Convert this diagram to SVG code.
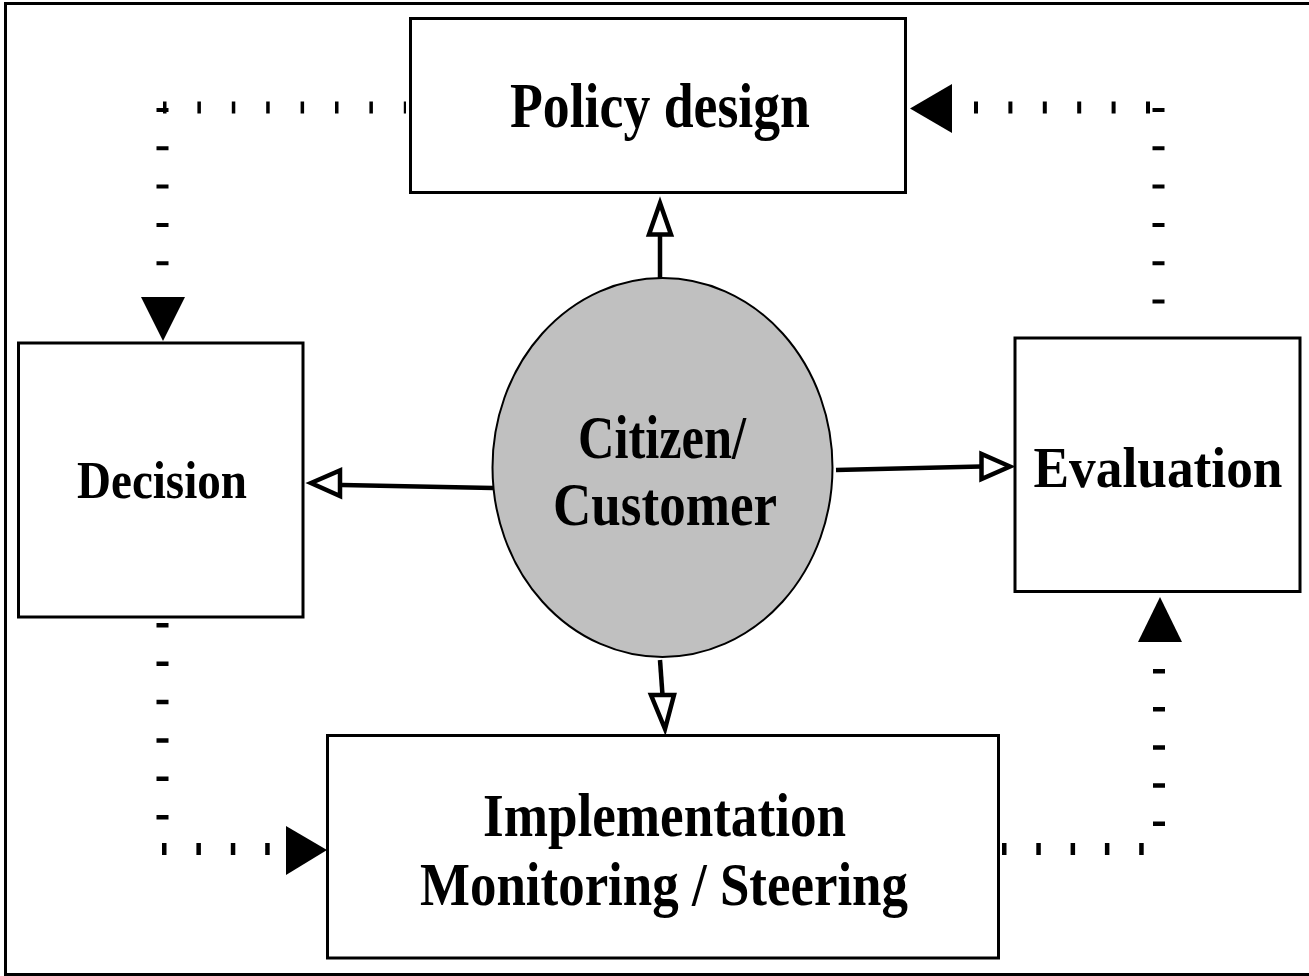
<svg xmlns="http://www.w3.org/2000/svg" width="1309" height="976" viewBox="0 0 1309 976">
<style>
.box{fill:#fff;stroke:#000;stroke-width:3}
.lbl{font-family:"Liberation Serif","Times New Roman",serif;font-weight:bold;fill:#000;text-anchor:middle}
.dh{stroke:#000;stroke-width:12;fill:none}
.dv{stroke:#000;stroke-width:12;fill:none}
.sol{stroke:#000;stroke-width:4.5;fill:none}
.hol{fill:#fff;stroke:#000;stroke-width:4.5;stroke-linejoin:miter}
.blk{fill:#000;stroke:none}
</style>
<rect x="0" y="0" width="1309" height="976" fill="#fff"/>
<path d="M5.5,976 V3.5 H1309 M5.5,974.5 H1309" fill="none" stroke="#000" stroke-width="3"/>
<g id="connectors">
  <!-- Policy design -> Decision (dotted) -->
  <line class="dh" x1="163" y1="107.5" x2="406" y2="107.5" stroke-dasharray="3.5 30.9"/>
  <line class="dv" x1="162.5" y1="108" x2="162.5" y2="268" stroke-dasharray="4 34.3"/>
  <polygon class="blk" points="141,297 185,297 163,341"/>
  <!-- Evaluation -> Policy design (dotted) -->
  <line class="dv" x1="1158.5" y1="108" x2="1158.5" y2="305" stroke-dasharray="4 34.3"/>
  <line class="dh" x1="974" y1="107.5" x2="1152" y2="107.5" stroke-dasharray="4 30.4"/>
  <polygon class="blk" points="952,84 952,133 910,108.5"/>
  <!-- Decision -> Implementation (dotted) -->
  <line class="dv" x1="162.5" y1="623" x2="162.5" y2="822" stroke-dasharray="4.5 33.9"/>
  <line class="dh" x1="162" y1="849" x2="272" y2="849" stroke-dasharray="4.5 29.9"/>
  <polygon class="blk" points="286,826 286,875 327,850"/>
  <!-- Implementation -> Evaluation (dotted) -->
  <line class="dh" x1="1002" y1="849" x2="1145" y2="849" stroke-dasharray="4.5 29.8"/>
  <line class="dv" x1="1159" y1="669" x2="1159" y2="827" stroke-dasharray="4.5 33.6"/>
  <polygon class="blk" points="1138,642 1182,642 1160,597"/>
  <!-- Citizen arrows -->
  <line class="sol" x1="660" y1="279" x2="660" y2="236"/>
  <polygon class="hol" points="660,203 671,234.5 649,234.5"/>
  <line class="sol" x1="493" y1="488" x2="342" y2="485"/>
  <polygon class="hol" points="311,483 340,470.5 340,496"/>
  <line class="sol" x1="836" y1="470" x2="981" y2="466.5"/>
  <polygon class="hol" points="1010,466.5 981.5,454 981.5,479"/>
  <line class="sol" x1="660" y1="660" x2="662.5" y2="695"/>
  <polygon class="hol" points="665,729 651,695 674,695"/>
</g>
<g id="policy-design">
  <rect class="box" x="410.5" y="18.5" width="495" height="174"/>
  <text class="lbl" x="660" y="127" font-size="63" textLength="300" lengthAdjust="spacingAndGlyphs">Policy design</text>
</g>
<g id="decision">
  <rect class="box" x="18.5" y="343" width="284.5" height="274"/>
  <text class="lbl" x="162" y="498" font-size="52" textLength="170" lengthAdjust="spacingAndGlyphs">Decision</text>
</g>
<g id="evaluation">
  <rect class="box" x="1015" y="338" width="285" height="253.5"/>
  <text class="lbl" x="1158" y="487" font-size="57" textLength="249" lengthAdjust="spacingAndGlyphs">Evaluation</text>
</g>
<g id="citizen-customer">
  <ellipse cx="662.5" cy="467.5" rx="170" ry="189.5" fill="#c0c0c0" stroke="#000" stroke-width="2"/>
  <text class="lbl" x="662" y="458" font-size="62" textLength="168" lengthAdjust="spacingAndGlyphs">Citizen/</text>
  <text class="lbl" x="665" y="525" font-size="62" textLength="224" lengthAdjust="spacingAndGlyphs">Customer</text>
</g>
<g id="implementation">
  <rect class="box" x="327.5" y="735.5" width="671" height="222.5"/>
  <text class="lbl" x="664.5" y="836" font-size="62" textLength="363" lengthAdjust="spacingAndGlyphs">Implementation</text>
  <text class="lbl" x="664" y="905" font-size="62" textLength="488" lengthAdjust="spacingAndGlyphs">Monitoring / Steering</text>
</g>
</svg>
